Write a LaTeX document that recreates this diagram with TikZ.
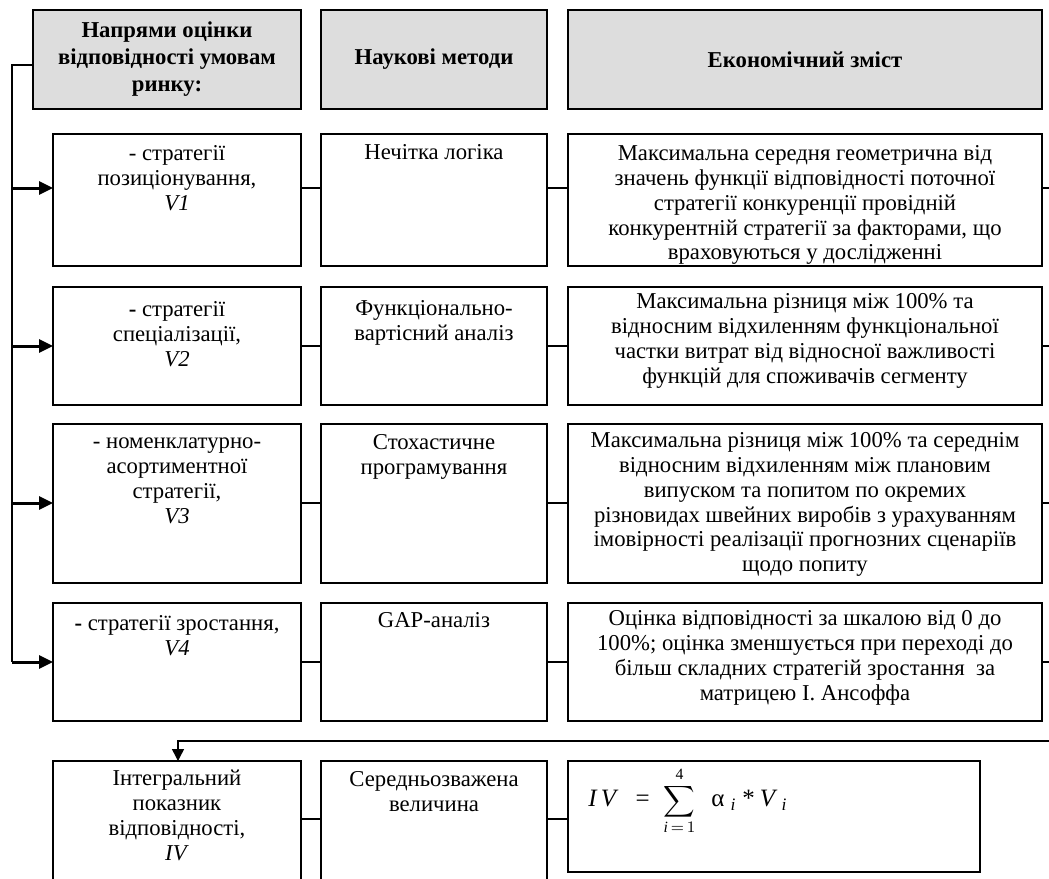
\documentclass[tikz,border=0pt]{standalone}
\usepackage{amsmath}
\usepackage{fontspec}
\setmainfont{Liberation Serif}
\usetikzlibrary{arrows.meta}
\definecolor{hdr}{RGB}{221,221,221}
\tikzset{
  cellbox/.style={draw=black, line width=0.9pt, inner sep=0pt, outer sep=0pt},
  hdrbox/.style={cellbox, fill=hdr},
  txt/.style={align=center, inner sep=0pt, font=\fontsize{11.35}{12.4}\selectfont},
  htxt/.style={align=center, inner sep=0pt, font=\fontsize{11.35}{13.5}\selectfont\bfseries},
  conn/.style={line width=0.75pt},
  arr/.style={line width=1.5pt, -{Triangle[length=7pt,width=6.5pt]}},
  darr/.style={line width=0.75pt, -{Triangle[length=6pt,width=6pt]}},
}
\newcommand\mkcell[6]{\node[#6, anchor=north west, minimum width={(#4-#2)*0.5pt}, minimum height={(#5-#3)*0.5pt}] (#1) at (#2,#3) {};}
\newcommand\celltext[4]{\node[txt, anchor=north] (#1) at ([yshift=-#3*0.5pt]#2.north) {\strut #4};}
\begin{document}
\begin{tikzpicture}[x=0.5pt,y=-0.5pt]
\useasboundingbox (0,0) rectangle (1049,878);
% headers
\mkcell{h1}{33}{10}{301}{109}{hdrbox}
\mkcell{h2}{321}{10}{547}{109}{hdrbox}
\mkcell{h3}{568}{10}{1042}{109}{hdrbox}
\node[htxt] (h1t) at (h1) {Напрями оцінки\\відповідності умовам\\ринку:};
\node[htxt] (h2t) at (h2) {Наукові методи};
\node[htxt] (h3t) at (h3) {Економічний зміст};
% row 1
\mkcell{r1a}{53}{134}{301}{266}{cellbox}
\mkcell{r1b}{321}{134}{547}{266}{cellbox}
\mkcell{r1c}{568}{134}{1042}{266}{cellbox}
\celltext{r1at}{r1a}{9}{- стратегії\\позиціонування,\\\textit{V1}}
\celltext{r1bt}{r1b}{8}{Нечітка логіка}
\celltext{r1ct}{r1c}{9}{Максимальна середня геометрична від\\значень функції відповідності поточної\\стратегії конкуренції провідній\\конкурентній стратегії за факторами, що\\враховуються у дослідженні}
% row 2
\mkcell{r2a}{53}{287}{301}{405}{cellbox}
\mkcell{r2b}{321}{287}{547}{405}{cellbox}
\mkcell{r2c}{568}{287}{1042}{405}{cellbox}
\celltext{r2at}{r2a}{12}{{\bfseries -} стратегії\\спеціалізації,\\\textit{V2}}
\celltext{r2bt}{r2b}{11}{Функціонально-\\вартісний аналіз}
\celltext{r2ct}{r2c}{4}{Максимальна різниця між 100\% та\\відносним відхиленням функціональної\\частки витрат від відносної важливості\\функцій для споживачів сегменту}
% row 3
\mkcell{r3a}{53}{424}{301}{583}{cellbox}
\mkcell{r3b}{321}{424}{547}{583}{cellbox}
\mkcell{r3c}{568}{424}{1042}{583}{cellbox}
\celltext{r3at}{r3a}{7}{- номенклатурно-\\асортиментної\\стратегії,\\\textit{V3}}
\celltext{r3bt}{r3b}{8}{Стохастичне\\програмування}
\celltext{r3ct}{r3c}{6}{Максимальна різниця між 100\% та середнім\\відносним відхиленням між плановим\\випуском та попитом по окремих\\різновидах швейних виробів з урахуванням\\імовірності реалізації прогнозних сценаріїв\\щодо попиту}
% row 4
\mkcell{r4a}{53}{603}{301}{721}{cellbox}
\mkcell{r4b}{321}{603}{547}{721}{cellbox}
\mkcell{r4c}{568}{603}{1042}{721}{cellbox}
\celltext{r4at}{r4a}{10}{{\bfseries -} стратегії зростання,\\\textit{V4}}
\celltext{r4bt}{r4b}{7}{GAP-аналіз}
\celltext{r4ct}{r4c}{5}{Оцінка відповідності за шкалою від 0 до\\100\%; оцінка зменшується при переході до\\більш складних стратегій зростання\ \ за\\матрицею І. Ансоффа}
% row 5
\mkcell{r5a}{53}{761}{301}{880}{cellbox}
\mkcell{r5b}{321}{761}{547}{880}{cellbox}
\mkcell{r5c}{568}{761}{980}{872}{cellbox}
\celltext{r5at}{r5a}{7}{Інтегральний\\показник\\відповідності,\\\textit{IV}}
\celltext{r5bt}{r5b}{8}{Середньозважена\\величина}
\node[anchor=west, inner sep=0pt, font=\fontsize{12.5}{15}\selectfont] (f) at (588,801)
  {\textit{I\,V}\hspace{8.5pt}=\hspace{7pt}{\fontsize{11.2}{13}\selectfont$\displaystyle\sum_{\textit{i}\,=\,1}^{\textrm{4}}$}\hspace{8pt}α$_{\hspace{3pt}\textit{i}}$\hspace{3pt}*\hspace{2.5pt}\textit{V}$_{\hspace{2pt}\textit{i}}$};
% left feeder line and arrows
\coordinate (j0) at (12,65);
\coordinate (j1) at (12,188);
\coordinate (j2) at (12,346);
\coordinate (j3) at (12,503);
\coordinate (j4) at (12,662);
\coordinate (re) at (1049,0);
\draw[conn] (j0 -| h1.west) -- (j0) -- (j4);
\draw[arr] (j1) -- (j1 -| r1a.west);
\draw[arr] (j2) -- (j2 -| r2a.west);
\draw[arr] (j3) -- (j3 -| r3a.west);
\draw[arr] (j4) -- (j4 -| r4a.west);
% row connectors
\foreach \r/\j in {1/j1,2/j2,3/j3,4/j4}{
  \draw[conn] (\j -| r\r a.east) -- (\j -| r\r b.west);
  \draw[conn] (\j -| r\r b.east) -- (\j -| r\r c.west);
  \draw[conn] (\j -| r\r c.east) -- (\j -| re);
}
% bottom feedback
\coordinate (t1) at (1049,741);
\coordinate (t2) at (178,741);
\draw[darr] (t1) -- (t2) -- (t2 |- r5a.north);
\coordinate (j5) at (12,819);
\draw[conn] (j5 -| r5a.east) -- (j5 -| r5b.west);
\draw[conn] (j5 -| r5b.east) -- (j5 -| r5c.west);
\end{tikzpicture}
\end{document}
